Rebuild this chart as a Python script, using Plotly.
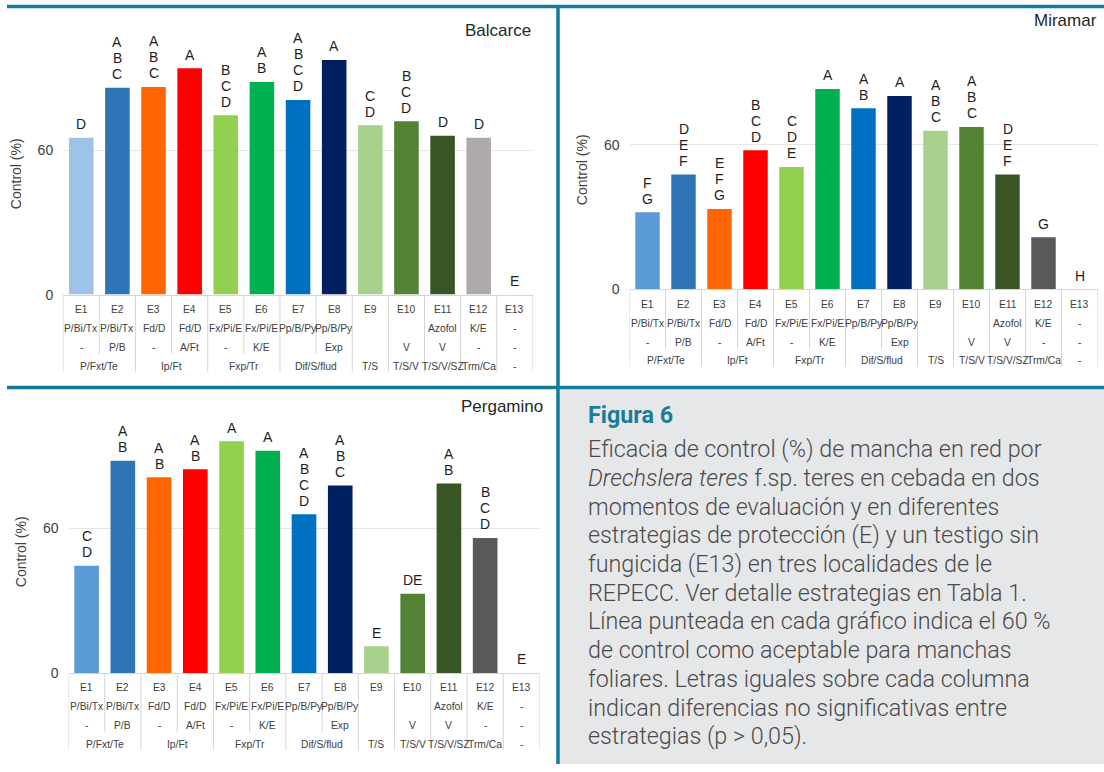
import plotly.graph_objects as go

W, H = 1104, 772

# ---- data -------------------------------------------------------------
strategies = ["E1", "E2", "E3", "E4", "E5", "E6", "E7", "E8", "E9", "E10", "E11", "E12", "E13"]
row_products_1 = ["P/Bi/Tx", "P/Bi/Tx", "Fd/D", "Fd/D", "Fx/Pi/E", "Fx/Pi/E", "Pp/B/Py", "Pp/B/Py",
                  "", "", "Azofol", "K/E", "-"]
row_products_2 = ["-", "P/B", "-", "A/Ft", "-", "K/E", "", "Exp", "", "V", "V", "-", "-"]
# seed treatments, some shared by two strategies: (label, first index, last index)
row_seed = [("P/Fxt/Te", 0, 1), ("Ip/Ft", 2, 3), ("Fxp/Tr", 4, 5), ("Dif/S/flud", 6, 7),
            ("T/S", 8, 8), ("T/S/V", 9, 9), ("T/S/V/SZ", 10, 10), ("Trm/Ca", 11, 11), ("-", 12, 12)]

balcarce_control = [65.1, 85.8, 86.2, 93.9, 74.4, 88.2, 80.8, 97.4, 70.3, 71.9, 65.9, 65.1, 0]
balcarce_letters = ["D", "A B C", "A B C", "A", "B C D", "A B", "A B C D", "A", "C D", "B C D",
                    "D", "D", "E"]

miramar_control = [32.0, 47.6, 33.3, 57.7, 50.7, 83.1, 75.1, 80.2, 65.8, 67.3, 47.6, 21.6, 0]
miramar_letters = ["F G", "D E F", "E F G", "B C D", "C D E", "A", "A B", "A", "A B C", "A B C",
                   "D E F", "G", "H"]

pergamino_control = [44.5, 88.1, 81.2, 84.5, 96.2, 92.2, 65.9, 77.8, 11.1, 32.9, 78.6, 56.0, 0]
pergamino_letters = ["C D", "A B", "A B", "A B", "A", "A", "A B C D", "A B C", "E", "DE",
                     "A B", "B C D", "E"]

colors_balcarce = ["#9dc3e6", "#2e75b6", "#ff6600", "#ff0000", "#92d050", "#00b050", "#0070c0",
                   "#002060", "#a9d18e", "#548235", "#375623", "#aeaaaa", "#aeaaaa"]
colors_other = ["#5b9bd5", "#2e75b6", "#ff6600", "#ff0000", "#92d050", "#00b050", "#0070c0",
                "#002060", "#a9d18e", "#548235", "#375623", "#595959", "#595959"]

caption_lines = [
    "Eficacia de control (%) de mancha en red por",
    "<i>Drechslera teres</i> f.sp. teres en cebada en dos",
    "momentos de evaluación y en diferentes",
    "estrategias de protección (E) y un testigo sin",
    "fungicida (E13) en tres localidades de le",
    "REPECC. Ver detalle estrategias en Tabla 1.",
    "Línea punteada en cada gráfico indica el 60 %",
    "de control como aceptable para manchas",
    "foliares. Letras iguales sobre cada columna",
    "indican diferencias no significativas entre",
    "estrategias (p &gt; 0,05).",
]

# ---- layout helpers ---------------------------------------------------
def xp(px):
    return px / W


def yp(py):
    return 1 - py / H


TEAL = "#127b97"
GRID = "#e6e6e6"
TABLE_LINE = "#d6d6d6"
FONT = "Liberation Sans, Arial, sans-serif"
PX_PER_UNIT = 2.435

panels = [
    dict(title="Balcarce", vals=balcarce_control, letters=balcarce_letters, colors=colors_balcarce,
         left=63.2, right=532.9, base=297.7, title_right=533, title_y=31,
         ytitle_x=16, ytitle_y=176),
    dict(title="Miramar", vals=miramar_control, letters=miramar_letters, colors=colors_other,
         left=629.5, right=1097.5, base=292.3, title_right=1099, title_y=21,
         ytitle_x=582, ytitle_y=172),
    dict(title="Pergamino", vals=pergamino_control, letters=pergamino_letters, colors=colors_other,
         left=68.5, right=539.5, base=680.0, title_right=545, title_y=411,
         ytitle_x=21, ytitle_y=558),
]

fig = go.Figure()
shapes = []
annotations = []

# panel frames and caption box
shapes.append(dict(type="rect", xref="paper", yref="paper", x0=xp(560), x1=xp(W),
                   y0=yp(H), y1=yp(393), fillcolor="#e6e7e8", line=dict(width=0), layer="below"))
shapes.append(dict(type="line", xref="paper", yref="paper", x0=xp(7), x1=xp(W),
                   y0=yp(6.5), y1=yp(6.5), line=dict(color=TEAL, width=3.5)))
shapes.append(dict(type="line", xref="paper", yref="paper", x0=xp(7), x1=xp(W),
                   y0=yp(391.5), y1=yp(391.5), line=dict(color=TEAL, width=3.5)))
shapes.append(dict(type="line", xref="paper", yref="paper", x0=xp(558), x1=xp(558),
                   y0=yp(5), y1=yp(H), line=dict(color=TEAL, width=3.5)))

row_offsets = [15.0, 34.3, 53.6, 72.4]
full_depth = 78
short_depth = 60

for n, p in enumerate(panels, start=1):
    xa = "x" if n == 1 else f"x{n}"
    ya = "y" if n == 1 else f"y{n}"
    top_px = p["base"] - 100 * PX_PER_UNIT
    idx = list(range(len(strategies)))

    fig.add_trace(go.Bar(
        x=idx, y=p["vals"], marker=dict(color=p["colors"], line=dict(width=0)),
        xaxis=xa, yaxis=ya, showlegend=False, hoverinfo="skip",
    ))

    fig.layout[f"xaxis{'' if n == 1 else n}"] = dict(
        domain=[xp(p["left"]), xp(p["right"])], range=[-0.5, 12.5], anchor=ya,
        showticklabels=False, ticks="", showgrid=False, zeroline=False,
        showline=True, linecolor=TABLE_LINE, linewidth=1, fixedrange=True,
    )
    fig.layout[f"yaxis{'' if n == 1 else n}"] = dict(
        domain=[yp(p["base"]), yp(top_px)], range=[0, 100], anchor=xa,
        tickvals=[0, 60], ticks="", showgrid=True, gridcolor=GRID, gridwidth=1,
        zeroline=False, showline=False, ticklabelstandoff=9,
        tickfont=dict(family=FONT, size=14, color="#404040"), fixedrange=True,
    )

    # significance letters stacked above each bar
    for i, (v, lab) in enumerate(zip(p["vals"], p["letters"])):
        for k, letter in enumerate(reversed(lab.split())):
            annotations.append(dict(
                x=i, y=v, xref=xa, yref=ya, text=letter, showarrow=False,
                yanchor="middle", xanchor="center", yshift=13.6 + 16 * k,
                font=dict(family=FONT, size=14, color="#1e1e1e"),
            ))

    # location title
    annotations.append(dict(
        x=xp(p["title_right"]), y=yp(p["title_y"]), xref="paper", yref="paper",
        text=p["title"], showarrow=False, xanchor="right", yanchor="middle",
        font=dict(family=FONT, size=17, color="#262626"),
    ))
    # y axis title
    annotations.append(dict(
        x=xp(p["ytitle_x"]), y=yp(p["ytitle_y"]), xref="paper", yref="paper",
        text="Control (%)", showarrow=False, textangle=-90, xanchor="center", yanchor="middle",
        font=dict(family=FONT, size=14, color="#404040"),
    ))

    # category table beneath the bars
    tfont = dict(family=FONT, size=10.3, color="#404040")
    rows = [strategies, row_products_1, row_products_2]
    for r, row in enumerate(rows):
        for i, txt in enumerate(row):
            if txt:
                annotations.append(dict(
                    x=i, y=yp(p["base"] + row_offsets[r]), xref=xa, yref="paper", text=txt,
                    showarrow=False, xanchor="center", yanchor="middle", font=tfont,
                ))
    for txt, a, b in row_seed:
        annotations.append(dict(
            x=(a + b) / 2, y=yp(p["base"] + row_offsets[3]), xref=xa, yref="paper", text=txt,
            showarrow=False, xanchor="center", yanchor="middle", font=tfont,
        ))

    grouped_inner = {a + 0.5 for _, a, b in row_seed if b > a}
    for j in range(len(strategies) + 1):
        bx = j - 0.5
        depth = short_depth if bx in grouped_inner else full_depth
        shapes.append(dict(
            type="line", xref=xa, yref="paper", x0=bx, x1=bx,
            y0=yp(p["base"]), y1=yp(p["base"] + depth),
            line=dict(color=TABLE_LINE, width=1),
        ))

# caption
annotations.append(dict(
    x=xp(586), y=yp(419), xref="paper", yref="paper", text="<b>Figura 6</b>",
    showarrow=False, xanchor="left", yanchor="middle",
    font=dict(family="Roboto, sans-serif", size=23.3, color="#1a7d98"),
))
for k, line in enumerate(caption_lines):
    annotations.append(dict(
        x=xp(586), y=yp(454 + 29.0 * k), xref="paper", yref="paper", text=line,
        showarrow=False, xanchor="left", yanchor="middle",
        font=dict(family="Roboto, sans-serif", size=23.3, color="#4a4a4c", weight=300),
    ))

fig.update_layout(
    width=W, height=H, margin=dict(l=0, r=0, t=0, b=0),
    paper_bgcolor="white", plot_bgcolor="rgba(0,0,0,0)",
    bargap=0.32, shapes=shapes, annotations=annotations,
    font=dict(family=FONT),
)

fig.write_html("out.html", config=dict(displayModeBar=False))
